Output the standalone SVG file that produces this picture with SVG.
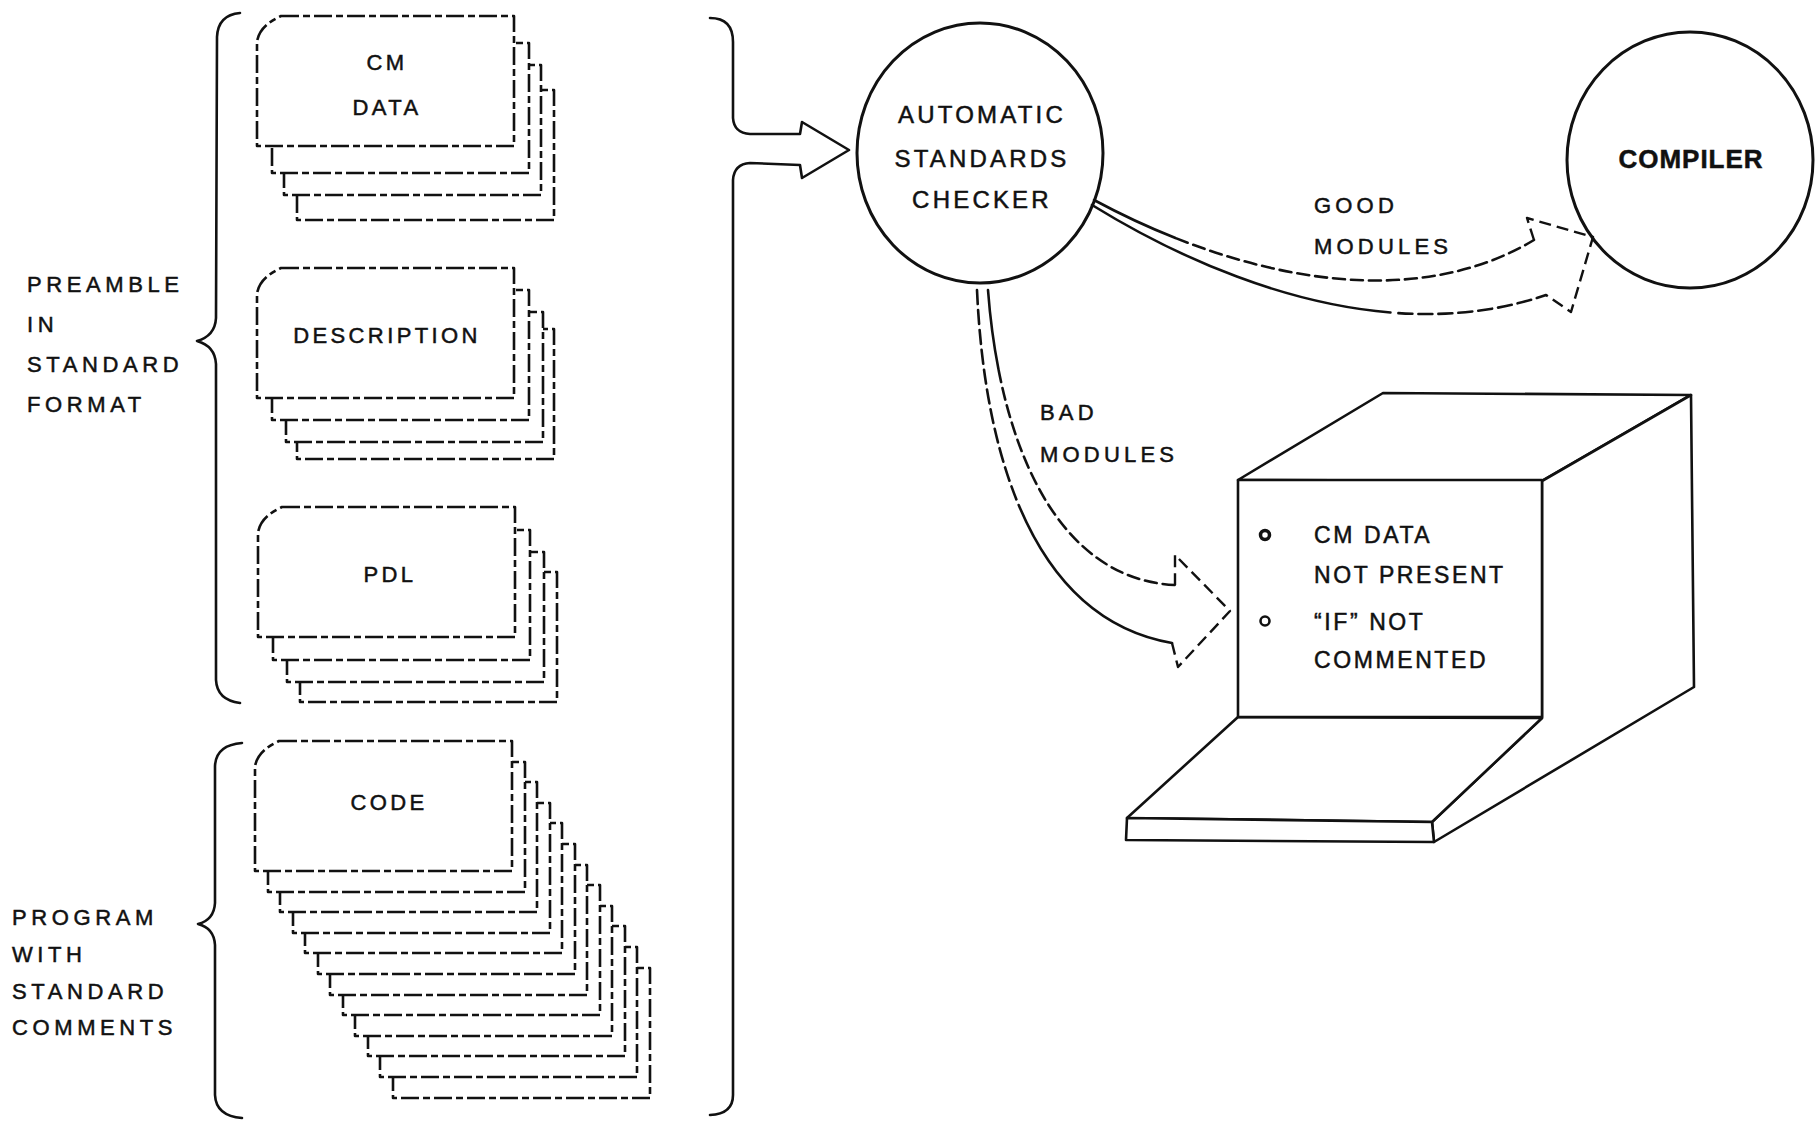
<svg xmlns="http://www.w3.org/2000/svg" width="1817" height="1128" viewBox="0 0 1817 1128">
  <style>
    .card { fill: #fff; stroke: #111; stroke-width: 2.6; stroke-dasharray: 18 4 7 4; stroke-linejoin: round; }
    .brace { fill: none; stroke: #111; stroke-width: 2.6; stroke-linecap: round; stroke-linejoin: round; }
    .ring { fill: #fff; stroke: #111; stroke-width: 3; }
    .solid { fill: none; stroke: #111; stroke-width: 2.6; stroke-linecap: round; stroke-linejoin: round; }
    .dash { fill: none; stroke: #111; stroke-width: 2.4; stroke-dasharray: 12 6; stroke-linecap: butt; stroke-linejoin: round; }
    .box { fill: #fff; stroke: #111; stroke-width: 2.6; stroke-linejoin: round; }
    .t { font-family: "Liberation Sans", Arial, Helvetica, sans-serif; fill: #111; stroke: #111; stroke-width: 0.5; }
    .side { font-size: 22px; letter-spacing: 4.6px; }
    .cardlbl { font-size: 22px; letter-spacing: 3.4px; text-anchor: middle; }
    .circ { font-size: 24px; letter-spacing: 3.2px; text-anchor: middle; }
    .flow { font-size: 22px; letter-spacing: 4.2px; }
    .screen { font-size: 23px; letter-spacing: 2.6px; }
  </style>
  <defs>
    <!-- one punched card with a clipped top-left corner -->
    <path id="card" d="M24,0 H257 V130 H0 V26 Q2,10 24,0 Z"/>
  </defs>

  <rect width="1817" height="1128" fill="#fff"/>

  <!-- left-hand braces and their captions -->
  <g id="brace-preamble">
    <path class="brace" d="M240,13 Q218,15 217,37 L216,318 Q215,336 197,341 Q215,346 216,364 L216,680 Q217,700 240,703"/>
    <text class="t side" x="27" y="292">PREAMBLE</text>
    <text class="t side" x="27" y="332">IN</text>
    <text class="t side" x="27" y="372">STANDARD</text>
    <text class="t side" x="27" y="412">FORMAT</text>
  </g>
  <g id="brace-program">
    <path class="brace" d="M242,743 Q216,745 215,766 L215,903 Q214,920 198,924 Q214,928 215,945 L215,1095 Q216,1116 242,1118"/>
    <text class="t side" x="12" y="925">PROGRAM</text>
    <text class="t side" x="12" y="962">WITH</text>
    <text class="t side" x="12" y="999">STANDARD</text>
    <text class="t side" x="12" y="1035">COMMENTS</text>
  </g>

  <!-- card decks, drawn back to front -->
  <g id="stack-cm-data">
    <use href="#card" class="card" x="297" y="90"/>
    <use href="#card" class="card" x="284" y="65"/>
    <use href="#card" class="card" x="272" y="43"/>
    <use href="#card" class="card" x="257" y="16"/>
    <text class="t cardlbl" x="387" y="70">CM</text>
    <text class="t cardlbl" x="387" y="115">DATA</text>
  </g>
  <g id="stack-description">
    <use href="#card" class="card" x="297" y="329"/>
    <use href="#card" class="card" x="286" y="312"/>
    <use href="#card" class="card" x="272" y="290"/>
    <use href="#card" class="card" x="257" y="268"/>
    <text class="t cardlbl" x="387" y="343">DESCRIPTION</text>
  </g>
  <g id="stack-pdl">
    <use href="#card" class="card" x="300" y="572"/>
    <use href="#card" class="card" x="287" y="552"/>
    <use href="#card" class="card" x="273" y="530"/>
    <use href="#card" class="card" x="258" y="507"/>
    <text class="t cardlbl" x="390" y="582">PDL</text>
  </g>
  <g id="stack-code">
    <use href="#card" class="card" x="393" y="968"/>
    <use href="#card" class="card" x="380" y="947"/>
    <use href="#card" class="card" x="368" y="926"/>
    <use href="#card" class="card" x="355" y="906"/>
    <use href="#card" class="card" x="343" y="885"/>
    <use href="#card" class="card" x="330" y="865"/>
    <use href="#card" class="card" x="318" y="844"/>
    <use href="#card" class="card" x="305" y="823"/>
    <use href="#card" class="card" x="293" y="803"/>
    <use href="#card" class="card" x="280" y="782"/>
    <use href="#card" class="card" x="268" y="762"/>
    <use href="#card" class="card" x="255" y="741"/>
    <text class="t cardlbl" x="389" y="810">CODE</text>
  </g>

  <!-- standards checker -->
  <g id="checker">
    <ellipse class="ring" cx="980" cy="153" rx="123" ry="130"/>
    <text class="t circ" x="982" y="123">AUTOMATIC</text>
    <text class="t circ" x="982" y="167">STANDARDS</text>
    <text class="t circ" x="982" y="208">CHECKER</text>
  </g>

  <!-- compiler -->
  <g id="compiler">
    <ellipse class="ring" cx="1690" cy="160" rx="123" ry="128"/>
    <text class="t" x="1691" y="168" font-size="26" font-weight="bold" letter-spacing="1" text-anchor="middle">COMPILER</text>
  </g>

  <!-- terminal showing the checker's report -->
  <g id="terminal">
    <path class="box" d="M1238,480 L1383,393 L1691,395 L1542,481 Z"/>
    <path class="box" d="M1542,481 L1691,395 L1694,687 L1434,842 L1432,822 L1542,718 Z"/>
    <path class="box" d="M1238,717 L1542,718 L1432,822 L1127,818 Z"/>
    <path class="box" d="M1127,818 L1432,822 L1434,842 L1126,840 Z"/>
    <rect class="box" x="1238" y="480" width="304" height="237"/>
    <circle cx="1265" cy="535" r="4.5" fill="none" stroke="#111" stroke-width="3.5"/>
    <circle cx="1265" cy="621" r="4.5" fill="none" stroke="#111" stroke-width="2.6"/>
    <text class="t screen" x="1314" y="543">CM DATA</text>
    <text class="t screen" x="1314" y="583">NOT PRESENT</text>
    <text class="t screen" x="1314" y="630">&#8220;IF&#8221; NOT</text>
    <text class="t screen" x="1314" y="668">COMMENTED</text>
  </g>

  <g id="connectors">
    <!-- deck brace merging into a broad arrow toward the checker -->
    <path class="solid" stroke-width="3" d="M710,18 Q733,18 733,42 L733,118 Q734,133 750,134 L800,134 L802,122 L849,150 L802,178 L800,165 L750,163 Q734,164 733,180 L733,1095 Q733,1114 710,1115"/>

    <!-- good modules: checker to compiler -->
    <path class="solid" stroke-dasharray="90 1 12 6 12 6 12 6 12 6 12 6 12 6 12 6 12 6 12 6 12 6 12 6 12 6 12 6 12 6 12 6 12 6 12 6 12 6 12 6 12 6 12 6 12 6 12 6" d="M1094,200 C1220,268 1400,320 1534,240"/>
    <path class="solid" stroke-dasharray="320 8 14 6 14 6 14 6 14 6 14 6 14 6 14 6 14 6 14 6 14 6" d="M1092,205 C1230,290 1400,345 1546,295"/>
    <path class="dash" d="M1534,240 L1527,218 L1593,237 L1571,312 L1546,295"/>
    <text class="t flow" x="1314" y="213">GOOD</text>
    <text class="t flow" x="1314" y="254">MODULES</text>

    <!-- bad modules: checker to terminal -->
    <path class="solid" stroke-dasharray="14 6 14 6 14 6 14 6 14 6 14 6 14 6 14 6 14 6 14 6 14 6 400 1" d="M977,290 C985,470 1040,620 1172,643"/>
    <path class="solid" stroke-dasharray="80 1 12 6 12 6 12 6 12 6 12 6 12 6 12 6 12 6 12 6 12 6 12 6 12 6 12 6 12 6 12 6 12 6 12 6 12 6 12 6 12 6" d="M988,290 C1000,450 1060,580 1175,585"/>
    <path class="dash" d="M1172,643 L1178,667 L1230,611 L1175,555 L1175,585"/>
    <text class="t flow" x="1040" y="420">BAD</text>
    <text class="t flow" x="1040" y="462">MODULES</text>
  </g>
</svg>
